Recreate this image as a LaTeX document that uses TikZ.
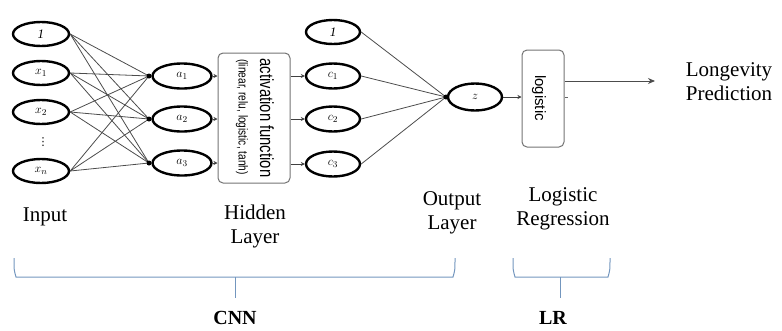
\documentclass[tikz,border=0pt]{standalone}
\usepackage{fontspec}
\setmainfont{Liberation Serif}
\newfontfamily\arialf{Liberation Sans}
\newfontfamily\dejaf{DejaVu Sans}
\usetikzlibrary{arrows.meta,shapes.geometric}
\begin{document}
\begin{tikzpicture}[x=1pt,y=-1pt,
  neuron/.style={draw=black, line width=2.4pt, ellipse, minimum width=56pt, minimum height=24pt, inner sep=0pt, font=\fontsize{13}{13}\selectfont},
  conn/.style={draw=black!70, line width=0.8pt},
  sarrow/.style={draw=black!75, line width=0.8pt, -{Stealth[length=4pt,width=4pt]}},
  dotc/.style={fill=black, draw=none, circle, minimum size=5pt, inner sep=0pt},
  lbl/.style={font=\fontsize{21}{24}\selectfont, align=center, inner sep=0pt},
  bracec/.style={draw={rgb,255:red,115;green,150;blue,190}, line width=1pt},
  boxs/.style={draw=black!55, rounded corners=5pt, line width=1pt, inner sep=0pt}
]
\useasboundingbox (0,0) rectangle (782,330);

% input layer
\node[neuron] (i0) at (41,34) {$\mathit{1}$};
\node[neuron] (i1) at (41,73) {$x_1$};
\node[neuron] (i2) at (41,112) {$x_2$};
\node[neuron] (in) at (41,171) {$x_n$};
\node[font=\dejaf\fontsize{11}{11}\selectfont, inner sep=0pt] (vd) at (43,142) {⋮};

% hidden layer
\node[neuron, minimum width=59pt, minimum height=25pt] (a1) at (182,76) {$a_1$};
\node[neuron, minimum width=59pt, minimum height=25pt] (a2) at (182,119) {$a_2$};
\node[neuron, minimum width=59pt, minimum height=25pt] (a3) at (182,163) {$a_3$};
\coordinate (h1) at (149,76);
\coordinate (h2) at (149,119);
\coordinate (h3) at (149,163);

\foreach \s in {i0,i1,i2,in}{
  \foreach \t in {h1,h2,h3}{
    \draw[conn] (\s.east) -- (\t);
  }
}
\node[dotc] (d1) at (h1) {};
\node[dotc] (d2) at (h2) {};
\node[dotc] (d3) at (h3) {};

% activation box
\node[boxs, minimum width=72pt, minimum height=130pt] (act) at (254,118) {};
\node[rotate=-90, inner sep=0pt, font=\arialf\fontsize{19}{19}\selectfont] (actt) at (267,118) {\scalebox{0.78}[1]{activation function}};
\node[rotate=-90, inner sep=0pt, font=\arialf\fontsize{13}{13}\selectfont] (actp) at (242,117) {\scalebox{0.78}[1]{(linear, relu, logistic, tanh)}};

\draw[sarrow] (a1.east) -- (act.west |- a1);
\draw[sarrow] (a2.east) -- (act.west |- a2);
\draw[sarrow] (a3.east) -- (act.west |- a3);

% output layer
\node[neuron, minimum width=54pt, minimum height=24pt] (o0) at (333,32) {$\mathit{1}$};
\node[neuron, minimum width=54pt, minimum height=25pt] (c1) at (333,76) {$c_1$};
\node[neuron, minimum width=54pt, minimum height=25pt] (c2) at (333,119) {$c_2$};
\node[neuron, minimum width=54pt, minimum height=25pt] (c3) at (333,164) {$c_3$};

\draw[sarrow] (act.east |- c1) -- (c1.west);
\draw[sarrow] (act.east |- c2) -- (c2.west);
\draw[sarrow] (act.east |- c3) -- (c3.west);

\node[neuron, minimum width=54pt, minimum height=27pt] (z) at (475,97) {$z$};
\coordinate (zc) at (446,97);
\foreach \s in {o0,c1,c2,c3}{
  \draw[conn] (\s.east) -- (zc);
}
\node[dotc] (dz) at (zc) {};

% logistic box
\node[boxs, minimum width=42pt, minimum height=97pt] (lg) at (543,98.5) {};
\node[rotate=-90, inner sep=0pt, font=\arialf\fontsize{15}{15}\selectfont] (lgt) at (539,98) {logistic};
\draw[sarrow] (z.east) -- (lg.west |- z);
\coordinate (tickend) at (568,97);
\draw[draw=black!60, line width=0.8pt] (lg.east |- tickend) -- (tickend);
\coordinate (outend) at (655,81);
\draw[draw=black!70, line width=1pt, -{Stealth[length=7pt,width=6pt]}] (lg.east |- outend) -- (outend);

\node[lbl] (lp) at (729,82) {Longevity\\Prediction};

% captions
\node[lbl, anchor=base] (tin) at (45,221) {Input};
\node[lbl] (thid) at (255,226) {Hidden\\Layer};
\node[lbl] (tout) at (452,213) {Output\\Layer};
\node[lbl] (tlog) at (563,209) {Logistic\\Regression};

% braces
\draw[bracec] (14,258) .. controls (14,270) .. (16,277) -- (453,277) .. controls (455,270) .. (455,258);
\coordinate (cnntip) at (235,298);
\draw[bracec] (235,277) -- (cnntip);
\draw[bracec] (513,258) .. controls (513,270) .. (515,277) -- (608,277) .. controls (610,270) .. (610,258);
\coordinate (lrtip) at (560,298);
\draw[bracec] (560,277) -- (lrtip);

\node[lbl, font=\bfseries\fontsize{20}{24}\selectfont] (cnn) at (235,318) {CNN};
\node[lbl, font=\bfseries\fontsize{20}{24}\selectfont] (lr) at (553,318) {LR};
\end{tikzpicture}
\end{document}
